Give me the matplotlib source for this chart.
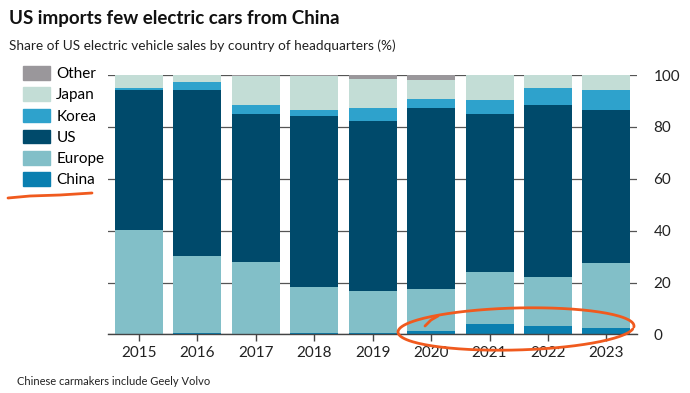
import matplotlib
matplotlib.use("Agg")
import matplotlib.pyplot as plt
import numpy as np
from matplotlib.lines import Line2D
from matplotlib.patches import Patch

# Share of US EV sales by country of headquarters (%)
YEARS = ["2015", "2016", "2017", "2018", "2019", "2020", "2021", "2022", "2023"]
CHINA = [0.0, 0.5, 0.3, 0.5, 0.5, 1.2, 4.1, 3.1, 2.4]
EUROPE = [40.2, 29.7, 27.5, 17.6, 16.3, 16.3, 19.9, 19.0, 25.0]
US = [53.9, 63.9, 57.3, 66.1, 65.5, 69.7, 61.1, 66.4, 59.1]
KOREA = [0.9, 3.2, 3.4, 2.2, 4.9, 3.7, 5.2, 6.6, 7.6]
JAPAN = [5.0, 2.7, 11.2, 13.4, 11.1, 7.1, 9.7, 4.9, 5.9]
OTHER = [0.0, 0.0, 0.3, 0.2, 1.7, 2.0, 0.0, 0.0, 0.0]

SERIES = [
    ("China", CHINA, "#0a7fb0"),
    ("Europe", EUROPE, "#82bfc8"),
    ("US", US, "#004a6b"),
    ("Korea", KOREA, "#2ea2cc"),
    ("Japan", JAPAN, "#c3ddd6"),
    ("Other", OTHER, "#9a979b"),
]

plt.rcParams["font.family"] = ["Lato", "DejaVu Sans"]

fig = plt.figure(figsize=(6.9, 3.93), dpi=100)
ax = fig.add_axes([0.157, 0.149, 0.766, 0.660])

x = np.arange(len(YEARS))
bottom = np.zeros(len(YEARS))
for name, vals, color in SERIES:
    ax.bar(x, vals, 0.82, bottom=bottom, color=color, zorder=2, linewidth=0)
    bottom += np.array(vals)

ax.set_xlim(-0.52, len(YEARS) - 0.48)
ax.set_ylim(0, 100)
ax.set_yticks([0, 20, 40, 60, 80, 100])
ax.yaxis.tick_right()
ax.tick_params(axis="y", length=0, pad=12, labelsize=11, labelcolor="#222222")
ax.set_xticks(x)
ax.set_xticklabels(YEARS)
ax.tick_params(axis="x", length=5, width=1, color="#444444", pad=3,
               labelsize=11, labelcolor="#222222")
ax.grid(axis="y", color="#555555", linewidth=0.9, zorder=0)
for s in ["top", "left", "right"]:
    ax.spines[s].set_visible(False)
ax.spines["bottom"].set_color("#444444")
ax.spines["bottom"].set_linewidth(1.0)

# legend, top to bottom
handles = [Patch(color=c, label=n) for n, _, c in reversed(SERIES)]
fig.legend(handles=handles, loc="upper left", bbox_to_anchor=(0.024, 0.847),
           frameon=False, fontsize=11, handlelength=1.8, handleheight=1.0,
           handletextpad=0.4, labelspacing=0.4, borderaxespad=0)

fig.text(0.013, 0.953, "US imports few electric cars from China",
         fontsize=13.5, fontweight="bold", va="center", ha="left", color="#111111")
fig.text(0.013, 0.883, "Share of US electric vehicle sales by country of headquarters (%)",
         fontsize=9.8, va="center", ha="left", color="#222222")
fig.text(0.025, 0.030, "Chinese carmakers include Geely Volvo",
         fontsize=8, va="center", ha="left", color="#222222")

# hand-drawn orange marks
orange = "#f05a1e"
W, H = 690.0, 393.0
ux = np.array([8, 30, 60, 92]) / W
uy = 1 - np.array([198, 196, 195, 193]) / H
fig.add_artist(Line2D(ux, uy, color=orange, lw=2, solid_capstyle="round"))

t = np.linspace(0.15, 2 * np.pi + 0.05, 200)
ex = 516 + 118 * np.cos(t)
ey = 329 + 21 * np.sin(t) - 3 * np.cos(t)
fig.add_artist(Line2D(ex / W, 1 - ey / H, color=orange, lw=2, solid_capstyle="round"))
hx = np.array([425, 431, 438])
hy = np.array([326, 320, 316])
fig.add_artist(Line2D(hx / W, 1 - hy / H, color=orange, lw=2, solid_capstyle="round"))

fig.savefig("out.png", dpi=100)
